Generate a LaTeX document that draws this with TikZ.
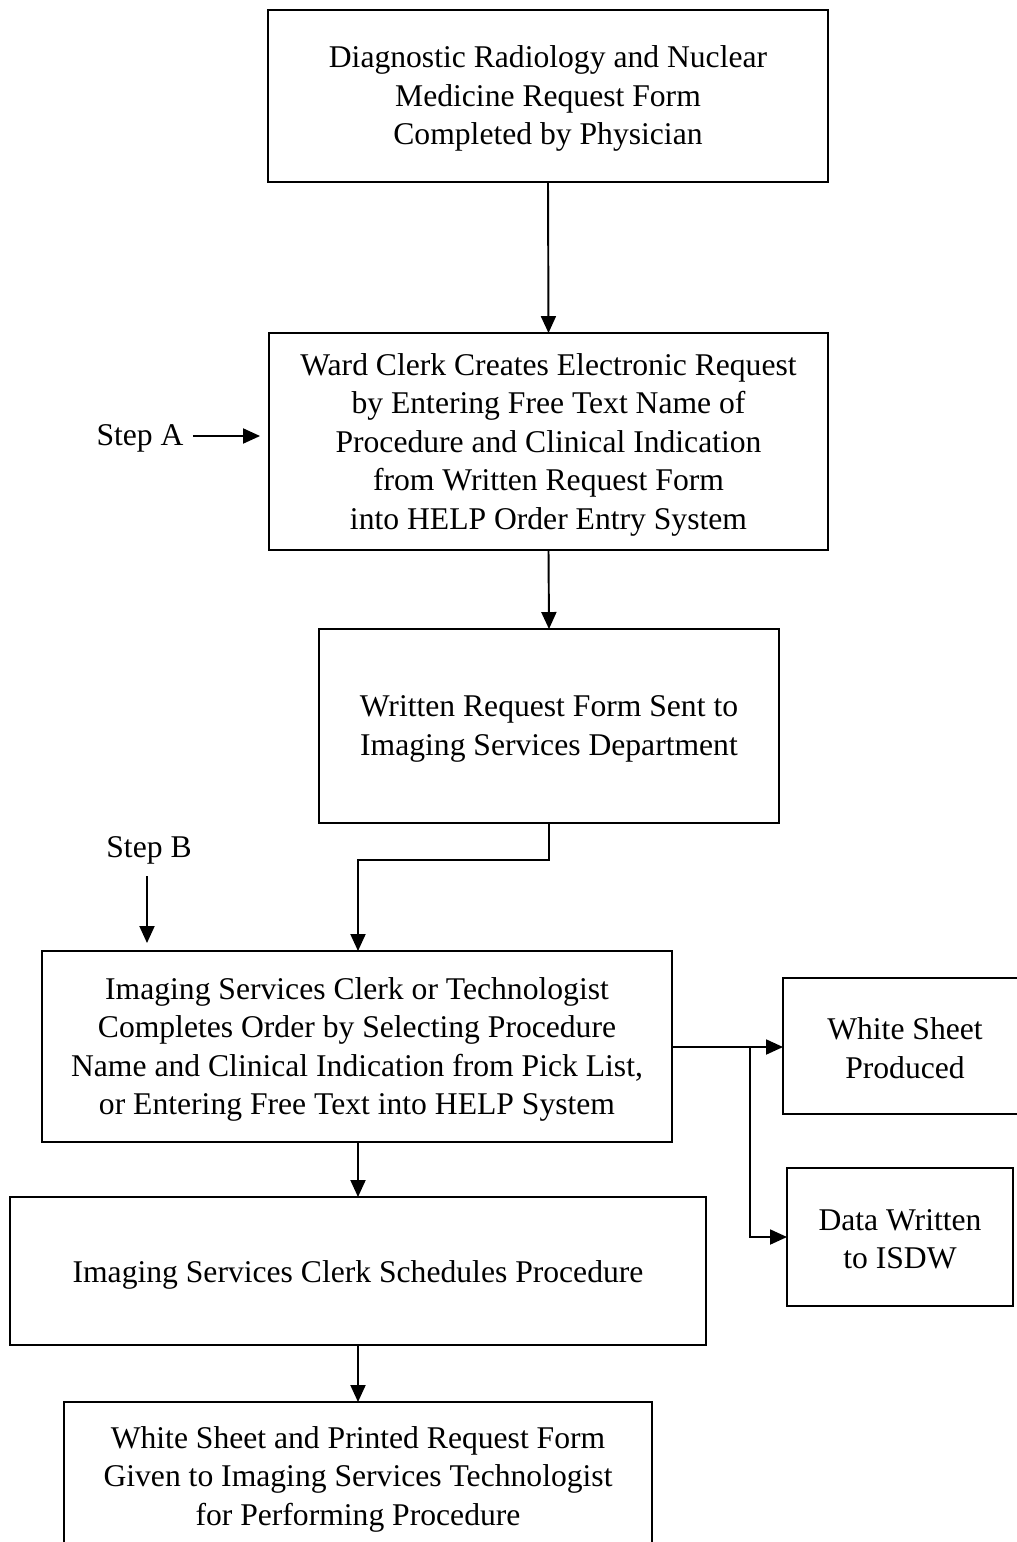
\documentclass[tikz,border=0pt]{standalone}
\usepackage{fontspec}
\setmainfont{Liberation Serif}
\usetikzlibrary{arrows.meta}
\begin{document}
\begin{tikzpicture}[x=0.02cm,y=-0.02cm,
  font=\fontsize{18}{21.9}\selectfont,
  box/.style={draw, line width=1.1pt, inner sep=0pt, outer sep=0pt},
  txt/.style={inner sep=0pt, align=center},
  arr/.style={line width=1.1pt, -{Triangle[length=0.34cm,width=0.3cm]}},
  lbl/.style={inner sep=0pt}]
\useasboundingbox (0,0) rectangle (1017,1542);
\clip (0,0) rectangle (1017,1542);
\node[box, minimum width=11.2cm, minimum height=3.44cm] (b1) at (548,96) {};
\node[txt] (t1) at ([yshift=-0.05cm]b1.center)
  {Diagnostic Radiology and Nuclear\\Medicine Request Form\\Completed by Physician};
\node[box, minimum width=11.18cm, minimum height=4.34cm] (b2) at (548.5,441.5) {};
\node[txt] (t2) at ([yshift=-0.06cm]b2.center)
  {Ward Clerk Creates Electronic Request\\by Entering Free Text Name of\\Procedure and Clinical Indication\\from Written Request Form\\into HELP Order Entry System};
\node[box, minimum width=9.2cm, minimum height=3.88cm] (b3) at (549,726) {};
\node[txt] (t3) at ([yshift=-0.06cm]b3.center)
  {Written Request Form Sent to\\Imaging Services Department};
\node[box, minimum width=12.6cm, minimum height=3.82cm] (b4) at (357,1046.5) {};
\node[txt] (t4) at ([yshift=-0.06cm]b4.center)
  {Imaging Services Clerk or Technologist\\Completes Order by Selecting Procedure\\Name and Clinical Indication from Pick List,\\or Entering Free Text into HELP System};
\node[box, minimum width=4.88cm, minimum height=2.72cm] (b5) at (905,1046) {};
\node[txt] (t5) at ([yshift=-0.04cm]b5.center) {White Sheet\\Produced};
\node[box, minimum width=4.52cm, minimum height=2.76cm] (b6) at (900,1237) {};
\node[txt] (t6) at ([yshift=-0.04cm]b6.center) {Data Written\\to ISDW};
\node[box, minimum width=13.92cm, minimum height=2.96cm] (b7) at (358,1271) {};
\node[txt] (t7) at ([yshift=-0.08cm]b7.center) {Imaging Services Clerk Schedules Procedure};
\node[box, minimum width=11.76cm, minimum height=2.96cm] (b8) at (358,1476) {};
\node[txt] (t8) at ([yshift=-0.06cm]b8.center)
  {White Sheet and Printed Request Form\\Given to Imaging Services Technologist\\for Performing Procedure};
\node[lbl] (sa) at (140,438) {Step A};
\node[lbl] (sb) at (149,850) {Step B};
\coordinate (m1) at (358,860);
\coordinate (br) at (750,1047);
\draw[arr] (b1.south) -- (b2.north);
\draw[arr] (b2.south) -- (b3.north);
\draw[arr] (b3.south) |- (m1) -- (b4.north -| m1);
\draw[arr, shorten <=0.18cm, shorten >=0.18cm] (sa.east |- 0,436) -- (b2.west |- 0,436);
\draw[arr, shorten <=0.24cm, shorten >=0.16cm] (sb.south -| 147,0) -- (b4.north -| 147,0);
\draw[arr] (b4.east |- br) -- (b5.west |- br);
\draw[arr] (br) |- (b6.west);
\draw[arr] (b4.south -| b7.north) -- (b7.north);
\draw[arr] (b7.south) -- (b8.north);
\end{tikzpicture}
\end{document}
